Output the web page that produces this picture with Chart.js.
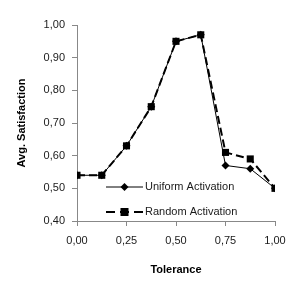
<!DOCTYPE html>
<html><head><meta charset="utf-8">
<script src="https://cdn.jsdelivr.net/npm/chart.js@4"></script>
<style>html,body{margin:0;padding:0;background:#fff}#w{width:303px;height:290px}</style>
</head><body><div id="w"><canvas id="c"></canvas></div>
<script>
const tolerance = [0, 0.125, 0.25, 0.375, 0.5, 0.625, 0.75, 0.875, 1.0];
const uniformActivation = [0.54, 0.54, 0.63, 0.75, 0.95, 0.97, 0.57, 0.56, 0.50];
const randomActivation  = [0.54, 0.54, 0.63, 0.75, 0.95, 0.97, 0.61, 0.59, 0.50];
const seriesNames = ['Uniform Activation', 'Random Activation'];
const xTitle = 'Tolerance';
const yTitle = 'Avg. Satisfaction';

const FONT = 'Liberation Sans';
const fmt = v => Number(v).toFixed(2).replace('.', ',');

const legendPlugin = {
  id: 'inlegend',
  afterDatasetsDraw(chart) {
    const ctx = chart.ctx;
    const a = chart.chartArea;
    const x0 = a.left + 29, x1 = a.left + 66;
    const rows = [a.top + 162, a.top + 187];
    ctx.save();
    ctx.strokeStyle = '#000';
    ctx.fillStyle = '#000';
    // row 1
    ctx.lineWidth = 1;
    ctx.setLineDash([]);
    ctx.beginPath(); ctx.moveTo(x0, rows[0]); ctx.lineTo(x1, rows[0]); ctx.stroke();
    const cx = (x0 + x1) / 2;
    ctx.beginPath();
    ctx.moveTo(cx, rows[0] - 4); ctx.lineTo(cx + 4, rows[0]); ctx.lineTo(cx, rows[0] + 4); ctx.lineTo(cx - 4, rows[0]); ctx.closePath(); ctx.fill();
    // row 2
    ctx.lineWidth = 2;
    ctx.setLineDash([9, 5]);
    ctx.beginPath(); ctx.moveTo(x0, rows[1]); ctx.lineTo(x1, rows[1]); ctx.stroke();
    ctx.setLineDash([]);
    ctx.fillRect(cx - 4, rows[1] - 4, 8, 8);
    ctx.font = '11px "' + FONT + '"';
    ctx.textBaseline = 'middle';
    ctx.fillStyle = '#1a1a1a';
    ctx.fillText(seriesNames[0], x1 + 2, rows[0]);
    ctx.fillText(seriesNames[1], x1 + 2, rows[1]);
    ctx.restore();
  }
};

new Chart(document.getElementById('c'), {
  type: 'line',
  data: {
    datasets: [
      { label: seriesNames[0], data: tolerance.map((t, i) => ({x: t, y: uniformActivation[i]})),
        borderColor: '#000', backgroundColor: '#000', borderWidth: 1,
        pointStyle: 'rectRot', pointRadius: 4, pointBorderWidth: 0, order: 1 },
      { label: seriesNames[1], data: tolerance.map((t, i) => ({x: t, y: randomActivation[i]})),
        borderColor: '#000', backgroundColor: '#000', borderWidth: 2, borderDash: [8, 4],
        pointStyle: 'rect', pointRadius: 5, pointBorderWidth: 0, order: 2 }
    ]
  },
  options: {
    responsive: true, maintainAspectRatio: false, animation: false,
    layout: { padding: { top: 25, right: 28, left: 0, bottom: 0 } },
    plugins: { legend: { display: false }, tooltip: { enabled: false } },
    scales: {
      x: {
        type: 'linear', min: 0, max: 1,
        afterFit: s => { s.height = 69; },
        afterBuildTicks: s => { s.ticks = [0, 0.25, 0.5, 0.75, 1].map(v => ({value: v})); },
        ticks: { callback: fmt, font: { family: FONT, size: 11 }, color: '#1a1a1a', padding: 8, maxRotation: 0 },
        grid: { drawOnChartArea: false, tickLength: 5, color: '#888' },
        border: { color: '#888' },
        title: { display: true, text: xTitle, font: { family: FONT, size: 11, weight: 'bold' }, color: '#000', padding: { top: 0, bottom: 13 } }
      },
      y: {
        min: 0.4, max: 1.0,
        afterFit: s => { s.width = 77; },
        ticks: { stepSize: 0.1, callback: fmt, font: { family: FONT, size: 11 }, color: '#1a1a1a', padding: 7 },
        grid: { drawOnChartArea: false, tickLength: 5, color: '#888' },
        border: { color: '#888' },
        title: { display: true, text: yTitle, font: { family: FONT, size: 11, weight: 'bold' }, color: '#000', padding: { top: 15, bottom: 0 } }
      }
    }
  },
  plugins: [legendPlugin]
});
</script>
</body></html>
